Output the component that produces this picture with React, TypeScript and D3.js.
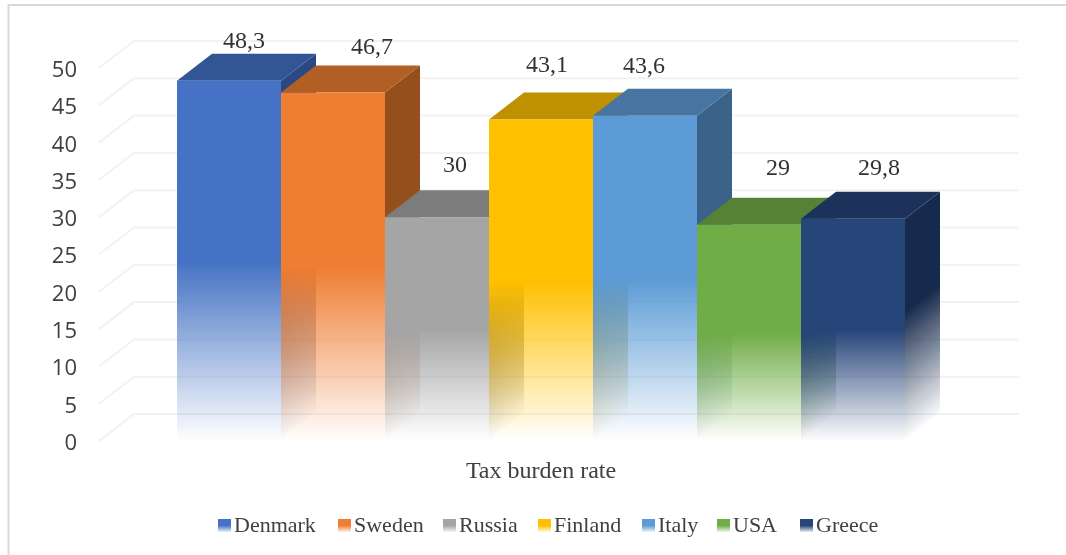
import * as d3 from "d3";

// tax burden by country, drawn as a fake 3D column chart
const countries = ["Denmark", "Sweden", "Russia", "Finland", "Italy", "USA", "Greece"];
const rates = [48.3, 46.7, 30, 43.1, 43.6, 29, 29.8];
const rateLabels = ["48,3", "46,7", "30", "43,1", "43,6", "29", "29,8"];
const frontColors = ["#4472c4", "#ef7d31", "#a5a5a5", "#ffc000", "#5b9bd5", "#70ad47", "#264478"];
const topColors = ["#335593", "#b25e25", "#7c7c7c", "#bf9000", "#4474a0", "#548235", "#1d335a"];
const sideColors = ["#2b4a82", "#95501d", "#6a6a6a", "#a37a00", "#3a6489", "#477030", "#182b4d"];
const axisMax = 50;
const axisTitle = "Tax burden rate";

const width = 1066;
const height = 555;
const depthX = 35;
const depthY = 27;
const gridLeft = 99;
const gridRight = 1019;

// the data labels in the picture do not sit on a regular spot over the bars
const labelNudge = [[15, 33], [39, 39], [18, 45], [6, 47], [-1, 43], [29, 50], [26, 44]];
const legendX = [218, 338, 443, 538, 642, 717, 800];

const serif = "'Liberation Serif', serif";
const sans = "'Open Sans', sans-serif";

const x = d3.scaleBand(countries, [177, 905]);
const y = d3.scaleLinear([0, axisMax], [441, 68]);
const poly = d3.line();

export default function App() {
  const bw = x.bandwidth();
  const skew = (x0: number) => `matrix(1,${-depthY / depthX},0,1,${x0},0)`;

  return (
    <svg width={width} height={height} style={{ position: "absolute", left: 0, top: 0, background: "#fff" }}>
      <defs>
        <filter id="soft"><feGaussianBlur stdDeviation="0.5" /></filter>
        <filter id="softText"><feGaussianBlur stdDeviation="0.3" /></filter>
        {countries.map((c, i) => (
          <g key={c}>
            <linearGradient id={`front${i}`} x1="0" y1="0" x2="0" y2="1">
              <stop offset="0.5" stopColor={frontColors[i]} stopOpacity={1} />
              <stop offset="1" stopColor={frontColors[i]} stopOpacity={0} />
            </linearGradient>
            <linearGradient id={`side${i}`} x1="0" y1="0" x2="0" y2="1">
              <stop offset="0.42" stopColor={sideColors[i]} stopOpacity={1} />
              <stop offset="1" stopColor={sideColors[i]} stopOpacity={0} />
            </linearGradient>
            <linearGradient id={`key${i}`} x1="0" y1="0" x2="0" y2="1">
              <stop offset="0.5" stopColor={frontColors[i]} stopOpacity={1} />
              <stop offset="1" stopColor={frontColors[i]} stopOpacity={0.1} />
            </linearGradient>
          </g>
        ))}
      </defs>

      {/* only the top and left edges of the frame are in the picture */}
      <path d="M8.5,555V5H1066" fill="none" stroke="#d9d9d9" strokeWidth={2} />

      {/* back wall lines and the short diagonals down to the axis */}
      <g fill="none" stroke="#f2f2f2" strokeWidth={2}>
        {y.ticks(10).map((t) => (
          <path
            key={t}
            d={poly([
              [gridLeft, y(t)],
              [gridLeft + depthX, y(t) - depthY],
              [gridRight, y(t) - depthY],
            ]) as string}
          />
        ))}
      </g>

      <g fontFamily={sans} fontSize={22} fill="#404040" textAnchor="end" filter="url(#softText)">
        {y.ticks(10).map((t) => (
          <text key={t} x={77} y={y(t) + 1} dy="0.36em">{t}</text>
        ))}
      </g>

      <g filter="url(#soft)">
        {countries.map((c, i) => {
          const x0 = x(c) as number;
          const top = y(rates[i]);
          return (
            <g key={c}>
              <rect
                x={0}
                y={top}
                width={depthX}
                height={y(0) - top}
                transform={skew(x0 + bw)}
                fill={`url(#side${i})`}
              />
              <path
                fill={topColors[i]}
                d={(poly([
                  [x0, top],
                  [x0 + depthX, top - depthY],
                  [x0 + bw + depthX, top - depthY],
                  [x0 + bw, top],
                ]) as string) + "Z"}
              />
              <rect x={x0} y={top} width={bw} height={y(0) - top} fill={`url(#front${i})`} />
            </g>
          );
        })}
      </g>

      <g fontFamily={serif} fontSize={24} fill="#333" textAnchor="middle" filter="url(#softText)">
        {countries.map((c, i) => (
          <text
            key={c}
            x={(x(c) as number) + x.bandwidth() / 2 + labelNudge[i][0]}
            y={y(rates[i]) - labelNudge[i][1]}
          >
            {rateLabels[i]}
          </text>
        ))}
      </g>

      <text x={541} y={478} fontFamily={serif} fontSize={24} fill="#404040" textAnchor="middle" filter="url(#softText)">
        {axisTitle}
      </text>

      <g fontFamily={serif} fontSize={22} fill="#404040" filter="url(#softText)">
        {countries.map((c, i) => (
          <g key={c} transform={`translate(${legendX[i]},0)`}>
            <rect x={0} y={519} width={13} height={13} fill={`url(#key${i})`} />
            <text x={16} y={532}>{c}</text>
          </g>
        ))}
      </g>
    </svg>
  );
}
